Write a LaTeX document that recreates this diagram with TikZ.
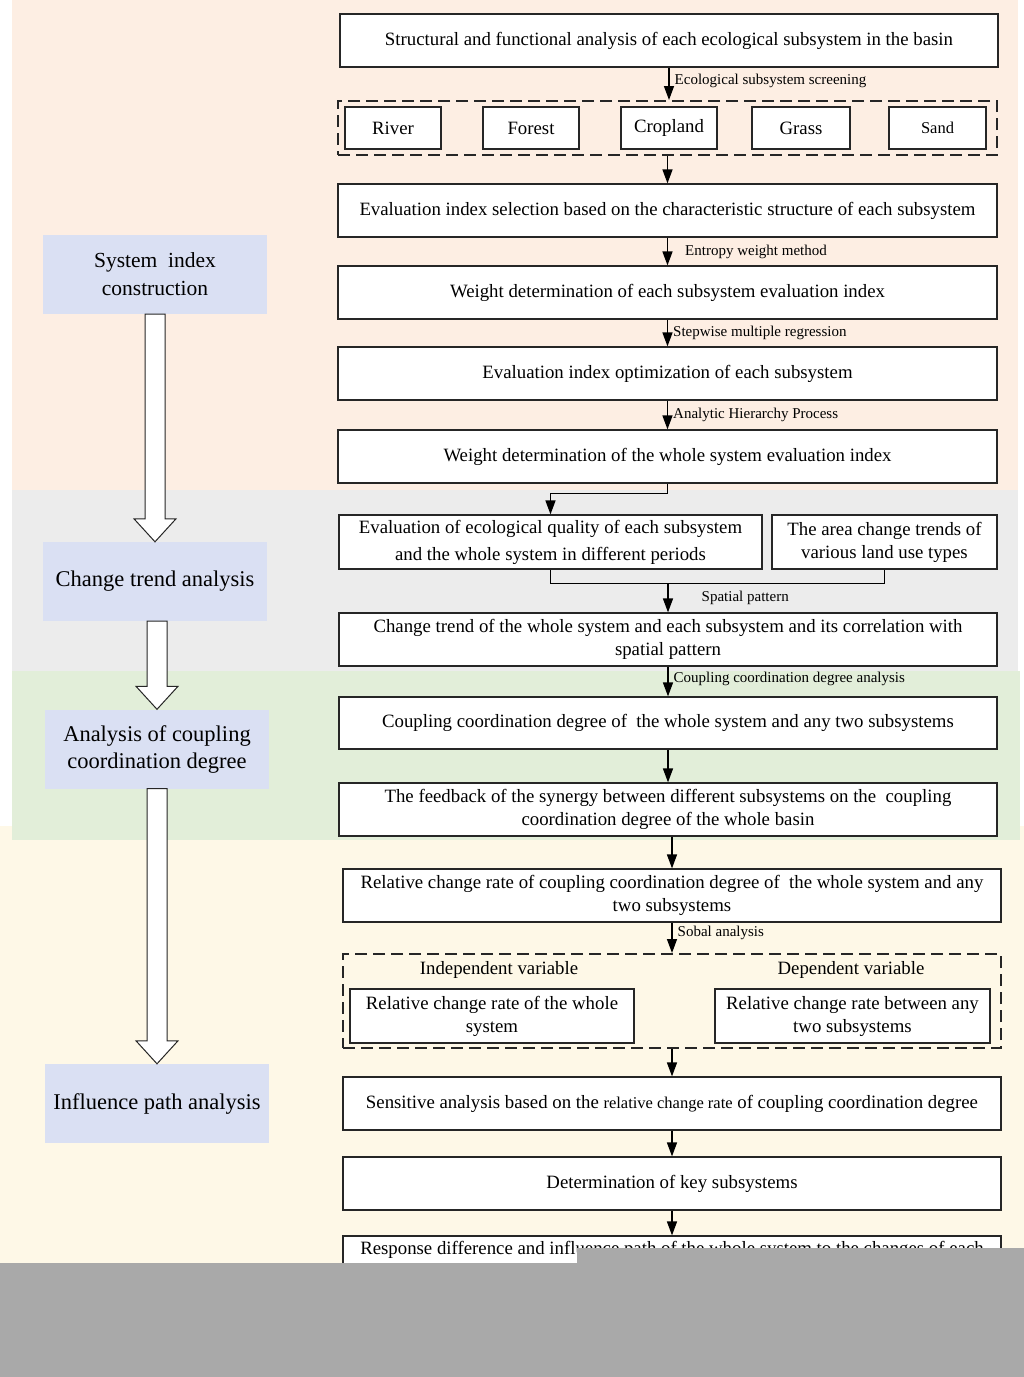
\documentclass[tikz,border=0pt]{standalone}
\usepackage{fontspec}
\setmainfont{Liberation Serif}
\usetikzlibrary{positioning,calc,arrows.meta}

\definecolor{peachband}{HTML}{FDEEE3}
\definecolor{greyband}{HTML}{ECECEC}
\definecolor{greenband}{HTML}{E2EED9}
\definecolor{creamband}{HTML}{FEF8E7}
\definecolor{stageblue}{HTML}{DAE0F3}
\definecolor{cutgrey}{HTML}{A9A9A9}

\tikzset{
  mainbox/.style={draw=black!85, line width=1.2pt, fill=white, minimum width=658pt,
    minimum height=53pt, align=center, inner sep=2pt, font=\fontsize{18.8}{23}\selectfont},
  subbox/.style={mainbox, minimum width=96pt, minimum height=42pt},
  groupbox/.style={draw=black!85, line width=2pt, dash pattern=on 12pt off 6pt, inner sep=0pt},
  stagebox/.style={fill=stageblue, minimum width=224pt, minimum height=79pt, align=center,
    font=\fontsize{22.5}{27}\selectfont},
  arr/.style={-{Triangle[width=10pt,length=14pt]}, line width=1.4pt},
  lbl/.style={right, font=\fontsize{15}{18}\selectfont, inner sep=2pt, xshift=3pt},
  hollow/.style={draw=black!85, line width=1pt, fill=white},
}

% hollow arrow between two stage boxes
\newcommand\hollowarrow[2]{%
  \draw[hollow] ($(#1.south -| #2.north)+(-10,0)$) -- ($(#2.north)+(-10,-23)$)
    -- ($(#2.north)+(-21,-23)$) -- (#2.north) -- ($(#2.north)+(21,-23)$)
    -- ($(#2.north)+(10,-23)$) -- ($(#1.south -| #2.north)+(10,0)$) -- cycle;}

\begin{document}
\begin{tikzpicture}[x=1pt, y=-1pt]
\useasboundingbox (0,0) rectangle (1024,1377);

% background bands
\fill[creamband] (0,826) rectangle (1024,1263);
\fill[peachband] (12,0) rectangle (1018,490);
\fill[greyband] (12,490) rectangle (1018,671);
\fill[greenband] (12,671) rectangle (1020,840);

% stages
\node[stagebox, font=\fontsize{21.5}{28}\selectfont] (stage1) at (155,274.5) {System \ index\\construction};
\node[stagebox] (stage2) at (155,581.5) {Change trend analysis};
\node[stagebox] (stage3) at (157,749) {Analysis of coupling\\coordination degree};
\node[stagebox] (stage4) at (157,1103.5) {Influence path analysis};
\hollowarrow{stage1}{stage2}
\hollowarrow{stage2}{stage3}
\hollowarrow{stage3}{stage4}

% system index construction
\node[mainbox] (struct) at (669,40.5) {Structural and functional analysis of each ecological subsystem in the basin};
\node[groupbox, minimum width=659pt, minimum height=54pt] (types) at (667.5,128) {};
\node[subbox] (river) at (393,128) {River};
\node[subbox] (forest) at (531,128) {Forest};
\node[subbox] (crop) at (669,128) {Cropland};
\node[subbox, minimum width=98pt] (grass) at (801,128) {Grass};
\node[subbox, minimum width=97pt, font=\fontsize{16.5}{20}\selectfont] (sand) at (937.5,128) {Sand};
\node[mainbox, minimum width=659pt] (select) at (667.5,210.5) {Evaluation index selection based on the characteristic structure of each subsystem};
\node[mainbox, minimum width=659pt] (subweight) at (667.5,292.5) {Weight determination of each subsystem evaluation index};
\node[mainbox, minimum width=659pt] (optim) at (667.5,373.5) {Evaluation index optimization of each subsystem};
\node[mainbox, minimum width=659pt] (wholeweight) at (667.5,456.5) {Weight determination of the whole system evaluation index};

\draw[arr] (struct.south) -- (struct.south |- types.north) node[lbl, midway, yshift=3pt] {Ecological subsystem screening};
\draw[arr] (types.south) -- (select.north);
\draw[arr] (select) -- (subweight) node[lbl, midway, xshift=12pt] {Entropy weight method};
\draw[arr] (subweight) -- (optim) node[lbl, midway] {Stepwise multiple regression};
\draw[arr] (optim) -- (wholeweight) node[lbl, midway] {Analytic Hierarchy Process};

% change trend analysis
\node[mainbox, minimum width=423pt, minimum height=54pt, font=\fontsize{18.8}{27}\selectfont] (quality) at (550.5,542) {Evaluation of ecological quality of each subsystem\\and the whole system in different periods};
\node[mainbox, minimum width=225pt, minimum height=54pt] (landuse) at (884.5,542) {The area change trends of\\various land use types};
\node[mainbox] (trend) at (668,639.5) {Change trend of the whole system and each subsystem and its correlation with\\spatial pattern};

\draw[arr] (wholeweight.south) -- ++(0,10) -| (quality.north);
\coordinate (merge) at ($(quality.south)+(0,14)$);
\draw[line width=1.4pt] (quality.south) -- (merge) -| (landuse.south);
\draw[arr] (merge -| trend.north) -- (trend.north) node[lbl, midway, xshift=28pt] {Spatial pattern};

% coupling coordination degree
\node[mainbox, minimum height=52pt] (coupling) at (668,723) {Coupling coordination degree of \ the whole system and any two subsystems};
\node[mainbox] (feedback) at (668,809.5) {The feedback of the synergy between different subsystems on the \ coupling\\coordination degree of the whole basin};

\draw[arr] (trend) -- (coupling) node[lbl, midway, yshift=3pt] {Coupling coordination degree analysis};
\draw[arr] (coupling) -- (feedback);

% influence path analysis
\node[mainbox] (rate) at (672,895.5) {Relative change rate of coupling coordination degree of \ the whole system and any\\two subsystems};
\node[groupbox, minimum width=658pt, minimum height=94pt] (vars) at (672,1001) {};
\node[font=\fontsize{18.8}{23}\selectfont] (indep) at (499,970) {Independent variable};
\node[font=\fontsize{18.8}{23}\selectfont] (dep) at (851,970) {Dependent variable};
\node[mainbox, minimum width=284pt, minimum height=54pt] (wholerate) at (492,1016) {Relative change rate of the whole\\system};
\node[mainbox, minimum width=275pt, minimum height=54pt] (pairrate) at (852.5,1016) {Relative change rate between any\\two subsystems};
\node[mainbox] (sensitive) at (672,1103.5) {Sensitive analysis based on the {\fontsize{16.5}{18}\selectfont relative change rate} of coupling coordination degree};
\node[mainbox] (keysub) at (672,1183.5) {Determination of key subsystems};
\node[mainbox] (response) at (672,1262.5) {Response difference and influence path of the whole system to the changes of each\\\strut};

\draw[arr] (feedback.south -| rate.north) -- (rate.north);
\draw[arr] (rate) -- (vars) node[lbl, midway, yshift=5pt] {Sobal analysis};
\draw[arr] (vars) -- (sensitive);
\draw[arr] (sensitive) -- (keysub);
\draw[arr] (keysub) -- (response);

% cut-off part of the figure
\fill[cutgrey] (0,1263) rectangle (1024,1377);
\fill[cutgrey] (577,1248) rectangle (1024,1263);
\end{tikzpicture}
\end{document}
